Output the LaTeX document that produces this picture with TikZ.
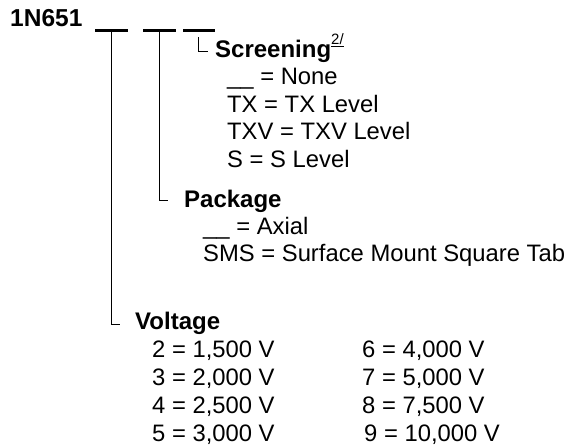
\documentclass[tikz,border=0pt]{standalone}
\usepackage{fontspec}
\setmainfont{Liberation Sans}
\begin{document}
\begin{tikzpicture}[x=1pt,y=-1pt,
  hd/.style={anchor=base west, inner sep=0pt, font=\fontsize{24}{28}\selectfont\bfseries},
  tx/.style={anchor=base west, inner sep=0pt, font=\fontsize{23.8}{28}\selectfont},
  sup/.style={anchor=base west, inner sep=0pt, font=\fontsize{15}{16}\selectfont},
  bar/.style={line width=3pt},
  lead/.style={line width=1pt}]
\useasboundingbox (0,0) rectangle (573,446);
% part number
\node[hd, font=\fontsize{24.5}{28}\selectfont\bfseries] (pn) at (10,27) {1N651};
% blanks
\coordinate (b1l) at (95,31);  \coordinate (b1r) at (128,31);
\coordinate (b2l) at (143,31); \coordinate (b2r) at (176,31);
\coordinate (b3l) at (183,31); \coordinate (b3r) at (215,31);
\draw[bar] (b1l) -- (b1r);
\draw[bar] (b2l) -- (b2r);
\draw[bar] (b3l) -- (b3r);
% Screening
\node[hd] (scr) at (215,58) {Screening};
\node[sup] (note) at (331,45) {\underline{2/}};
\node[tx] (s0) at (227,85) {\_\_ = None};
\node[tx] (s1) at (227,112.5) {TX = TX Level};
\node[tx] (s2) at (227,140) {TXV = TXV Level};
\node[tx] (s3) at (227,167.5) {S = S Level};
% Package
\node[hd] (pk) at (184,208) {Package};
\node[tx] (p0) at (203,235) {\_\_ = Axial};
\node[tx] (p1) at (203,262) {SMS = Surface Mount Square Tab};
% Voltage
\node[hd] (vt) at (135,330) {Voltage};
\node[tx] (v2) at (152,357) {2 = 1,500 V};
\node[tx] (v3) at (152,385) {3 = 2,000 V};
\node[tx] (v4) at (152,413) {4 = 2,500 V};
\node[tx] (v5) at (152,441) {5 = 3,000 V};
\node[tx] (v6) at (362,357) {6 = 4,000 V};
\node[tx] (v7) at (362,385) {7 = 5,000 V};
\node[tx] (v8) at (362,413) {8 = 7,500 V};
\node[tx] (v9) at (364,441) {9 = 10,000 V};
% leaders
\coordinate (t1) at (111,31);  \coordinate (c1) at (111,325); \coordinate (e1) at (120,325);
\coordinate (t2) at (159,31);  \coordinate (c2) at (159,201); \coordinate (e2) at (168,201);
\coordinate (t3) at (198,37.5);\coordinate (c3) at (198,52);  \coordinate (e3) at (208,52);
\draw[lead] (t1) -- (c1) -- (e1);
\draw[lead] (t2) -- (c2) -- (e2);
\draw[lead] (t3) -- (c3) -- (e3);
\end{tikzpicture}
\end{document}
